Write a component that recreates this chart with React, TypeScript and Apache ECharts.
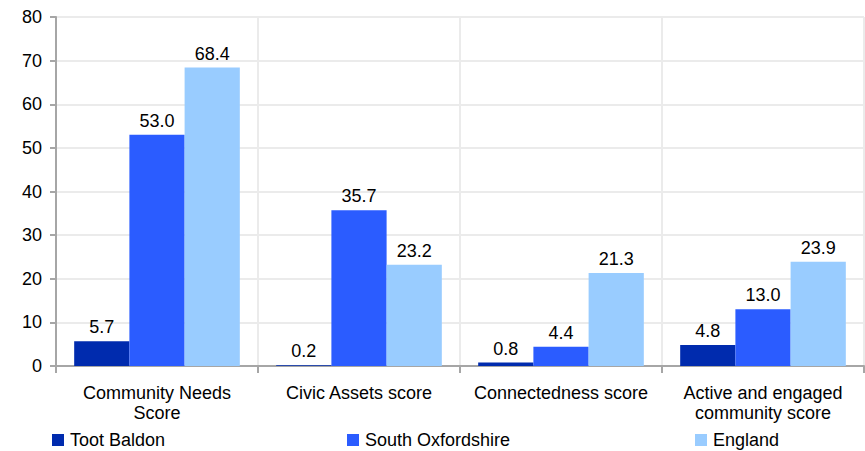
import React, { useEffect, useRef } from "react";
import * as echarts from "echarts";

const categories = [
  "Community Needs\nScore",
  "Civic Assets score",
  "Connectedness score",
  "Active and engaged\ncommunity score",
];
const seriesNames = ["Toot Baldon", "South Oxfordshire", "England"];
const tootBaldon = [5.7, 0.2, 0.8, 4.8];
const southOxfordshire = [53.0, 35.7, 4.4, 13.0];
const england = [68.4, 23.2, 21.3, 23.9];
const colors = ["#002BAE", "#2B5CFF", "#99CCFF"];
const legendLefts = [52, 347, 695];

export default function App() {
  const ref = useRef<HTMLDivElement>(null);
  useEffect(() => {
    if (!ref.current) return;
    const chart = echarts.init(ref.current, null, { renderer: "svg" });
    const font = "'Liberation Sans', Arial, sans-serif";
    const values = [tootBaldon, southOxfordshire, england];
    chart.setOption({
      animation: false,
      textStyle: { fontFamily: font },
      grid: { left: 56, right: 1, top: 17, bottom: 85, containLabel: false },
      legend: seriesNames.map((n, i) => ({
        data: [n],
        left: legendLefts[i],
        top: 431,
        padding: 0,
        icon: "rect",
        itemWidth: 12,
        itemHeight: 12,
        itemGap: 8,
        textStyle: { fontSize: 18, color: "#000", fontFamily: font, padding: [0, 0, 0, 1] },
        selectedMode: false,
      })),
      xAxis: {
        type: "category",
        data: categories,
        axisLine: { lineStyle: { color: "#A6A6A6", width: 2 } },
        axisTick: { show: true, length: 7, lineStyle: { color: "#A6A6A6", width: 2 } },
        splitLine: { show: true, lineStyle: { color: "#EBEBEB", width: 2 } },
        axisLabel: {
          color: "#000",
          fontSize: 18,
          lineHeight: 20,
          margin: 17,
          interval: 0,
          fontFamily: font,
        },
      },
      yAxis: {
        type: "value",
        min: 0,
        max: 80,
        interval: 10,
        axisLine: { show: true, lineStyle: { color: "#A6A6A6", width: 2 } },
        axisTick: { show: true, length: 6, lineStyle: { color: "#A6A6A6", width: 2 } },
        splitLine: { show: true, lineStyle: { color: "#EBEBEB", width: 2 } },
        axisLabel: { color: "#000", fontSize: 18, margin: 14, fontFamily: font },
      },
      series: seriesNames.map((n, i) => ({
        name: n,
        type: "bar",
        data: values[i],
        barGap: "0%",
        barCategoryGap: "18%",
        itemStyle: { color: colors[i] },
        label: {
          show: true,
          position: "top",
          distance: 5,
          color: "#000",
          fontSize: 18,
          fontFamily: font,
          formatter: (p: any) => Number(p.value).toFixed(1),
        },
      })),
    });
    return () => chart.dispose();
  }, []);
  return <div ref={ref} style={{ width: 865, height: 451, position: "absolute", left: 0, top: 0 }} />;
}
